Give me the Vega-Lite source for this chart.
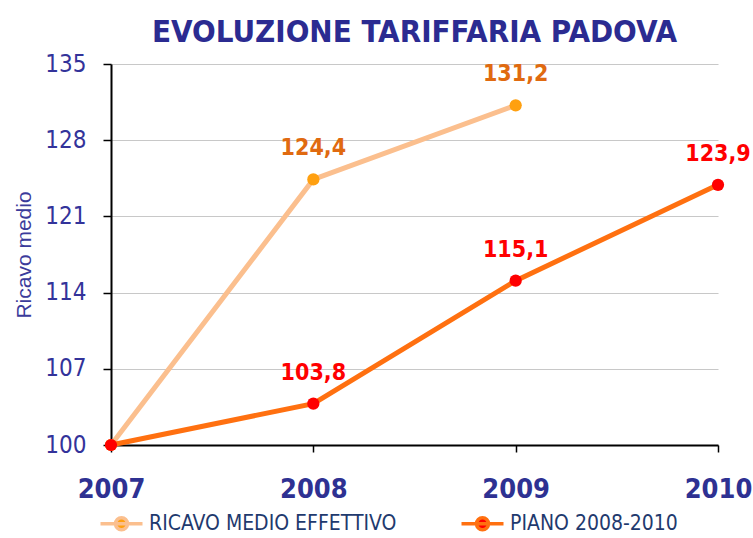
{
  "$schema": "https://vega.github.io/schema/vega-lite/v6.json",
  "width": 753,
  "height": 538,
  "autosize": {"type": "fit", "contains": "padding"},
  "padding": {"left": 13, "top": 17, "right": 1, "bottom": 1},
  "background": "white",
  "title": {
    "text": "EVOLUZIONE TARIFFARIA PADOVA",
    "font": "DejaVu Sans Condensed",
    "fontWeight": "bold",
    "fontSize": 31,
    "color": "#2b2b91",
    "anchor": "middle",
    "offset": 3
  },
  "data": {
    "values": [
      {"year": 2007, "value": 100, "series": "RICAVO MEDIO EFFETTIVO", "label": null},
      {"year": 2008, "value": 124.4, "series": "RICAVO MEDIO EFFETTIVO", "label": "124,4"},
      {"year": 2009, "value": 131.2, "series": "RICAVO MEDIO EFFETTIVO", "label": "131,2"},
      {"year": 2007, "value": 100, "series": "PIANO 2008-2010", "label": null},
      {"year": 2008, "value": 103.8, "series": "PIANO 2008-2010", "label": "103,8"},
      {"year": 2009, "value": 115.1, "series": "PIANO 2008-2010", "label": "115,1"},
      {"year": 2010, "value": 123.9, "series": "PIANO 2008-2010", "label": "123,9"}
    ]
  },
  "encoding": {
    "x": {
      "field": "year",
      "type": "quantitative",
      "scale": {"domain": [2007, 2010]},
      "axis": {
        "title": null,
        "values": [2007, 2008, 2009, 2010],
        "format": "d",
        "grid": false,
        "labelFont": "DejaVu Sans Condensed",
        "labelFontWeight": "bold",
        "labelFontSize": 27,
        "labelColor": "#2e3192",
        "labelPadding": 24,
        "labelFlush": false,
        "domainColor": "black",
        "domainWidth": 2,
        "tickColor": "black",
        "tickWidth": 1.5,
        "tickSize": 7
      }
    },
    "y": {
      "field": "value",
      "type": "quantitative",
      "scale": {"domain": [100, 135], "nice": false, "zero": false},
      "axis": {
        "title": "Ricavo medio",
        "titleFont": "Liberation Sans",
        "titleFontWeight": "normal",
        "titleFontSize": 21,
        "titleColor": "#3b3b9b",
        "titlePadding": 10,
        "values": [100, 107, 114, 121, 128, 135],
        "labelFont": "DejaVu Sans Condensed",
        "labelFontSize": 24,
        "labelColor": "#33339a",
        "labelPadding": 17,
        "grid": true,
        "gridColor": "#c8c8c8",
        "gridWidth": 1.2,
        "domainColor": "black",
        "domainWidth": 2,
        "tickColor": "black",
        "tickWidth": 1.5,
        "tickSize": 8
      }
    }
  },
  "layer": [
    {
      "mark": {"type": "line", "strokeWidth": 5},
      "encoding": {
        "stroke": {
          "field": "series",
          "type": "nominal",
          "sort": ["RICAVO MEDIO EFFETTIVO", "PIANO 2008-2010"],
          "scale": {"domain": ["RICAVO MEDIO EFFETTIVO", "PIANO 2008-2010"], "range": ["#fbbf8e", "#ff7010"]},
          "legend": {
            "title": null,
            "orient": "bottom",
            "direction": "horizontal",
            "symbolType": "M-2.8,0H2.8M0.8,0A0.8,0.8,0,1,1,-0.8,0A0.8,0.8,0,1,1,0.8,0Z",
            "symbolSize": 225,
            "symbolStrokeWidth": 3.5,
            "labelFont": "DejaVu Sans Condensed",
            "labelFontSize": 21,
            "labelColor": "#1f3a6e",
            "labelLimit": 400,
            "labelOffset": 17,
            "columnPadding": 57,
            "offset": 11
          }
        }
      }
    },
    {
      "mark": {"type": "point", "filled": true, "size": 150, "opacity": 1},
      "encoding": {
        "fill": {
          "field": "series",
          "type": "nominal",
          "scale": {"domain": ["RICAVO MEDIO EFFETTIVO", "PIANO 2008-2010"], "range": ["#ffa010", "#ff0000"]},
          "legend": {
            "title": null,
            "orient": "bottom",
            "direction": "horizontal",
            "symbolType": "M-2.8,0H2.8M0.8,0A0.8,0.8,0,1,1,-0.8,0A0.8,0.8,0,1,1,0.8,0Z",
            "symbolSize": 225,
            "symbolStrokeWidth": 3.5,
            "labelFont": "DejaVu Sans Condensed",
            "labelFontSize": 21,
            "labelColor": "#1f3a6e",
            "labelLimit": 400,
            "labelOffset": 17,
            "columnPadding": 57,
            "offset": 11
          }
        }
      }
    },
    {
      "transform": [{"filter": "datum.label != null && datum.series == 'RICAVO MEDIO EFFETTIVO'"}],
      "mark": {"type": "text", "dy": -31, "font": "DejaVu Sans Condensed", "fontWeight": "bold", "fontSize": 23, "fill": "#e06a10"},
      "encoding": {"text": {"field": "label"}}
    },
    {
      "transform": [{"filter": "datum.label != null && datum.series == 'PIANO 2008-2010'"}],
      "mark": {"type": "text", "dy": -31, "font": "DejaVu Sans Condensed", "fontWeight": "bold", "fontSize": 23, "fill": "#ff0000"},
      "encoding": {"text": {"field": "label"}}
    }
  ],
  "config": {"view": {"stroke": null}}
}
